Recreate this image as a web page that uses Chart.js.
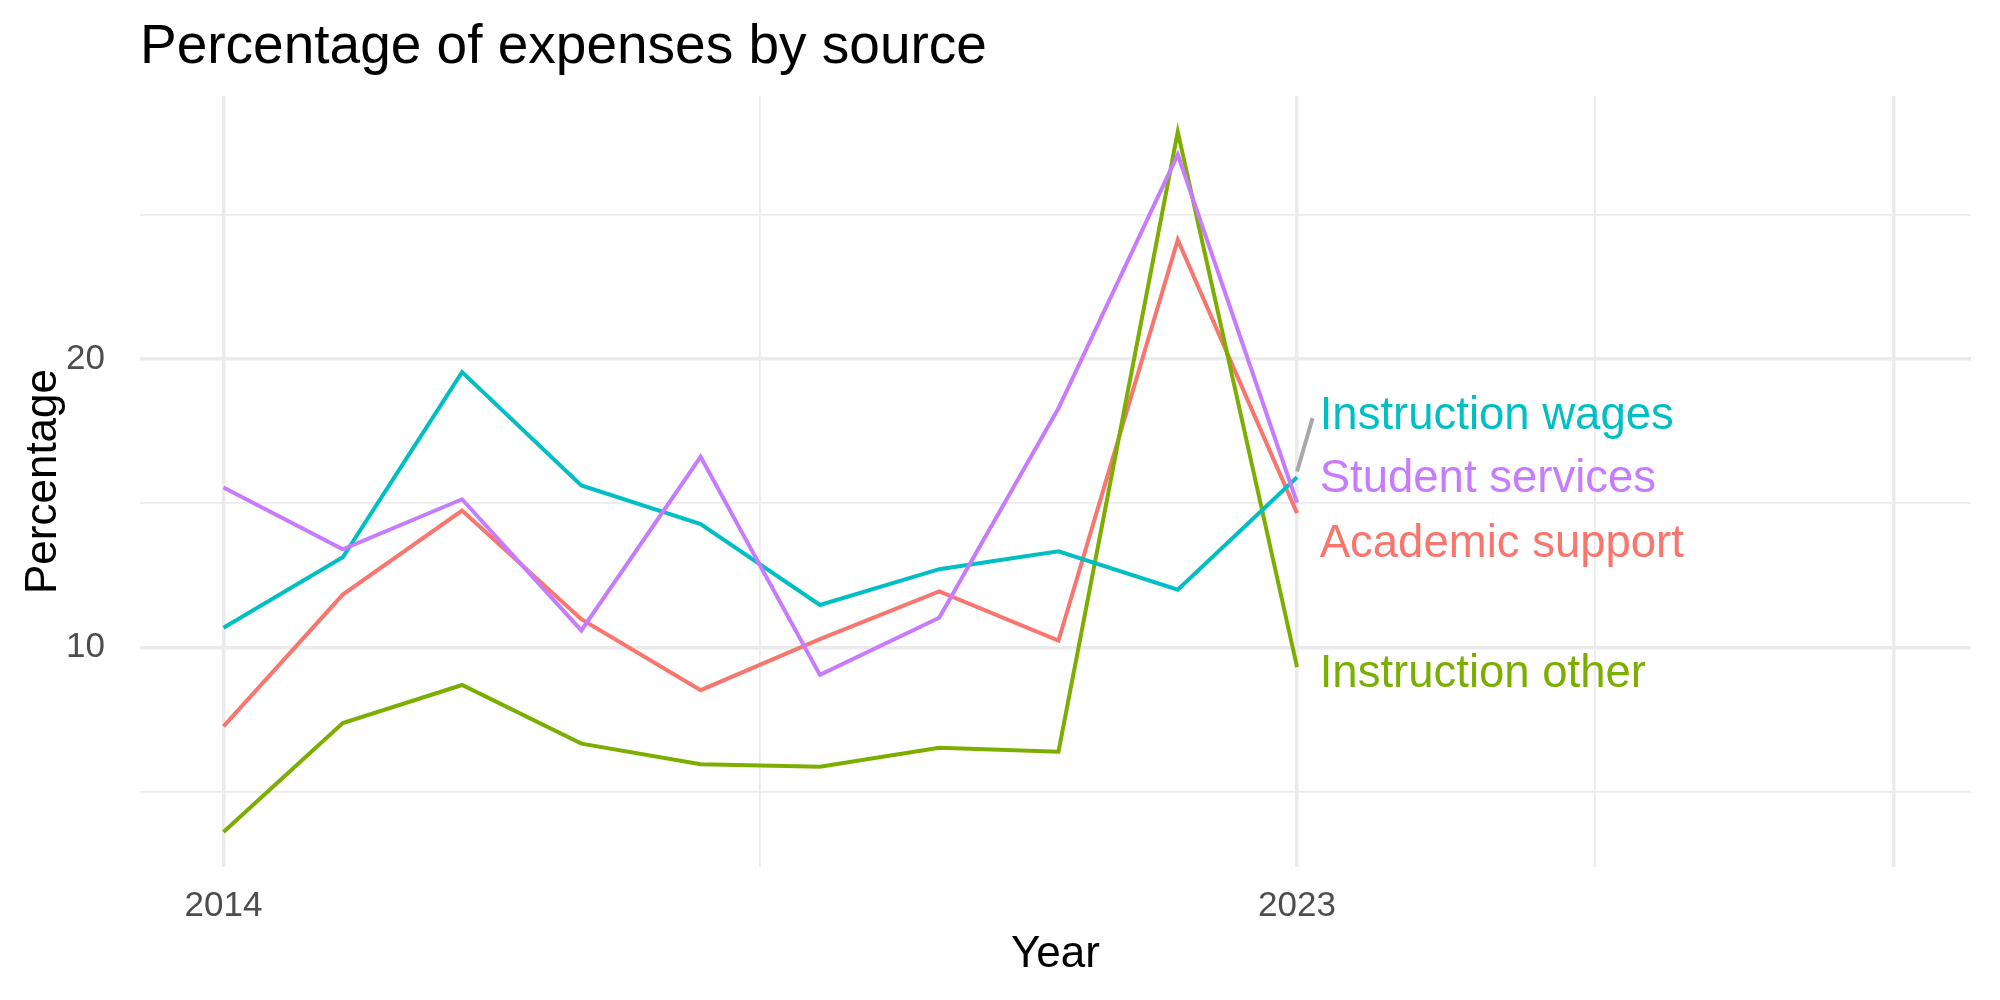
<!DOCTYPE html>
<html>
<head>
<meta charset="utf-8">
<script src="https://cdn.jsdelivr.net/npm/chart.js@4.4.1/dist/chart.umd.min.js"></script>
<style>
  html, body { margin: 0; padding: 0; background: #ffffff; }
  #wrap { width: 2000px; height: 1000px; position: relative; }
</style>
</head>
<body>
<div id="wrap"><canvas id="chart"></canvas></div>
<script>
const FONT = '"Liberation Sans", Arial, Helvetica, sans-serif';

const YEARS = [2014, 2015, 2016, 2017, 2018, 2019, 2020, 2021, 2022, 2023];

const SERIES_NAMES = ['Academic support', 'Instruction other', 'Instruction wages', 'Student services'];
const SERIES_COLORS = ['#F8766D', '#7CAE00', '#00BFC4', '#C77CFF'];

const academicSupport  = [7.28, 11.84, 14.75, 10.99, 8.53, 10.30, 11.95, 10.25, 24.12, 14.66];
const instructionOther = [3.62, 7.39, 8.71, 6.68, 5.97, 5.88, 6.54, 6.40, 27.86, 9.33];
const instructionWages = [10.69, 13.13, 19.54, 15.62, 14.28, 11.48, 12.72, 13.34, 12.01, 15.90];
const studentServices  = [15.55, 13.41, 15.14, 10.60, 16.61, 9.06, 11.04, 18.29, 27.07, 15.02];

const SERIES_VALUES = [academicSupport, instructionOther, instructionWages, studentServices];

// end-of-line labels (data coords of label left edge / vertical centre)
const LABEL_X = [2023.19, 2023.19, 2023.19, 2023.19];
const LABEL_Y = [13.59, 9.08, 17.99, 15.81];

// repel segment for "Instruction wages"
const SEGMENT_X = [2023.0, 2023.13];
const SEGMENT_Y = [16.1, 17.95];

const X_GRID = [2014, 2018.5, 2023, 2025.5, 2028];
const X_MAJOR = [2014, 2023, 2028];
const X_LABELS = [2014, 2023];

const Y_GRID = [5, 10, 15, 20, 25];
const Y_MAJOR = [10, 20];
const Y_LABELS = [10, 20];

const datasets = SERIES_NAMES.map((name, i) => ({
  label: name,
  data: YEARS.map((yr, j) => ({x: yr, y: SERIES_VALUES[i][j]})),
  borderColor: SERIES_COLORS[i],
  backgroundColor: SERIES_COLORS[i],
  borderWidth: 4,
  pointRadius: 0,
  tension: 0,
  order: SERIES_NAMES.length - i
}));

datasets.push({
  label: 'segment',
  data: SEGMENT_X.map((x, j) => ({x, y: SEGMENT_Y[j]})),
  borderColor: '#A8A8A8',
  borderWidth: 4,
  pointRadius: 0,
  order: -1
});

const textLayer = {
  id: 'textLayer',
  afterDraw(chart) {
    const {ctx, chartArea, scales} = chart;
    ctx.save();

    ctx.fillStyle = '#000000';
    ctx.font = `55px ${FONT}`;
    ctx.textAlign = 'left';
    ctx.textBaseline = 'alphabetic';
    ctx.fillText('Percentage of expenses by source', chartArea.left, 63);

    ctx.font = `44px ${FONT}`;
    ctx.textAlign = 'center';
    ctx.textBaseline = 'middle';
    ctx.fillText('Year', (chartArea.left + chartArea.right) / 2, 955);

    ctx.save();
    ctx.translate(44, (chartArea.top + chartArea.bottom) / 2);
    ctx.rotate(-Math.PI / 2);
    ctx.fillText('Percentage', 0, 0);
    ctx.restore();

    ctx.font = `45.5px ${FONT}`;
    ctx.textAlign = 'left';
    ctx.textBaseline = 'middle';
    SERIES_NAMES.forEach((name, i) => {
      ctx.fillStyle = SERIES_COLORS[i];
      ctx.fillText(name, scales.x.getPixelForValue(LABEL_X[i]), scales.y.getPixelForValue(LABEL_Y[i]));
    });

    ctx.restore();
  }
};

new Chart(document.getElementById('chart'), {
  type: 'line',
  data: { datasets },
  plugins: [textLayer],
  options: {
    responsive: true,
    maintainAspectRatio: false,
    animation: false,
    devicePixelRatio: 1,
    layout: { padding: { left: 0, right: 29, top: 96, bottom: 0 } },
    scales: {
      x: {
        type: 'linear',
        min: 2013.3,
        max: 2028.65,
        afterBuildTicks: s => { s.ticks = X_GRID.map(v => ({value: v})); },
        afterFit: s => { s.height = 133; },
        border: { display: false },
        grid: {
          color: '#EBEBEB',
          lineWidth: c => X_MAJOR.includes(c.tick.value) ? 3.5 : 1.8,
          drawTicks: false
        },
        ticks: {
          autoSkip: false,
          maxRotation: 0,
          padding: 18,
          color: '#4D4D4D',
          font: { family: FONT, size: 35 },
          callback: v => X_LABELS.includes(v) ? String(v) : ''
        }
      },
      y: {
        min: 2.41,
        max: 29.1,
        afterBuildTicks: s => { s.ticks = Y_GRID.map(v => ({value: v})); },
        afterFit: s => { s.width = 140; },
        border: { display: false },
        grid: {
          color: '#EBEBEB',
          lineWidth: c => Y_MAJOR.includes(c.tick.value) ? 3.5 : 1.8,
          drawTicks: false
        },
        ticks: {
          padding: 35,
          color: '#4D4D4D',
          font: { family: FONT, size: 35 },
          callback: v => Y_LABELS.includes(v) ? String(v) : ''
        }
      }
    },
    plugins: {
      legend: { display: false },
      tooltip: { enabled: false }
    }
  }
});
</script>
</body>
</html>
